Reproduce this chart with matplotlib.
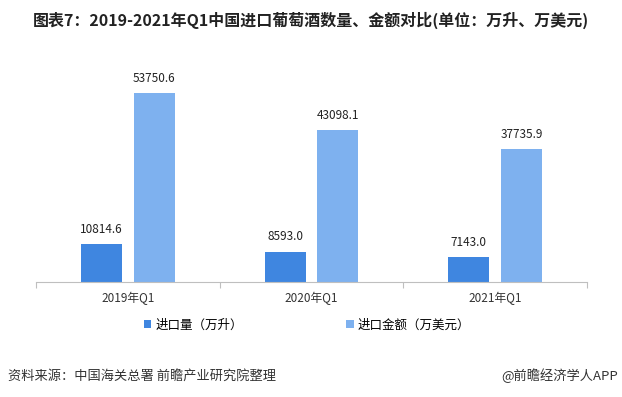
import matplotlib
matplotlib.use("Agg")
import matplotlib.pyplot as plt
import numpy as np

plt.rcParams['font.family'] = ['Noto Sans CJK SC', 'DejaVu Sans']

categories = ["2019年Q1", "2020年Q1", "2021年Q1"]
volume = [10814.6, 8593.0, 7143.0]
amount = [53750.6, 43098.1, 37735.9]
series_names = ["进口量（万升）", "进口金额（万美元）"]

c_dark = "#3F86E0"
c_light = "#7EB1EF"

fig = plt.figure(figsize=(6.22, 3.97), dpi=100)
ax = fig.add_axes([36/622, 1-282/397, (587-36)/622, (282-71)/397])

x = np.arange(len(categories))
w = 0.223
off = 0.144
b1 = ax.bar(x - off, volume, w, color=c_dark, label=series_names[0])
b2 = ax.bar(x + off, amount, w, color=c_light, label=series_names[1])
for bars, vals in ((b1, volume), (b2, amount)):
    for r, v in zip(bars, vals):
        ax.annotate(f"{v:.1f}", (r.get_x() + r.get_width()/2, v), xytext=(0, 6),
                    textcoords="offset points", ha="center", va="bottom",
                    fontsize=8.5, color="#222222")

ax.set_xlim(-0.5, 2.5)
ax.set_ylim(0, 60000)
ax.set_yticks([])
for s in ("top", "right", "left"):
    ax.spines[s].set_visible(False)
ax.spines["bottom"].set_color("#BFBFBF")
ax.set_xticks([-0.5, 0.5, 1.5, 2.5], minor=False)
ax.set_xticklabels([])
ax.tick_params(axis="x", which="major", length=4, color="#BFBFBF")
ax.set_xticks(x, minor=True)
ax.set_xticklabels(categories, minor=True, fontsize=8.5, color="#333333")
ax.tick_params(axis="x", which="minor", length=0, pad=7)

leg = fig.legend(handles=[b1, b2], labels=series_names, loc="center",
                 bbox_to_anchor=(307/622, 1-325/397), ncol=2, frameon=False,
                 fontsize=9, handlelength=0.6, handleheight=0.6,
                 handletextpad=0.3, columnspacing=8.3)

fig.text(0.5, 1-20/397, "图表7：2019-2021年Q1中国进口葡萄酒数量、金额对比(单位：万升、万美元)",
         ha="center", va="center", fontsize=11.5, fontweight="bold", color="#222222")
fig.text(8/622, 1-376/397, "资料来源：中国海关总署 前瞻产业研究院整理", ha="left", va="center",
         fontsize=9.5, color="#333333")
fig.text(618/622, 1-376/397, "@前瞻经济学人APP", ha="right", va="center",
         fontsize=9.5, color="#333333")

fig.savefig("out.png", dpi=100)
